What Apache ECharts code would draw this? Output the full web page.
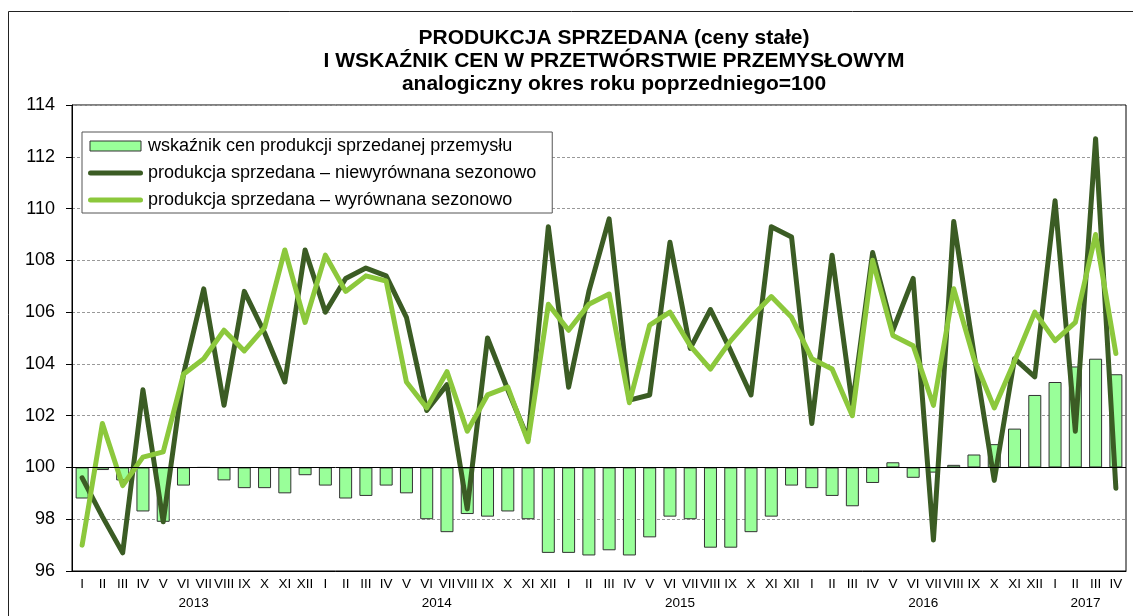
<!DOCTYPE html>
<html>
<head>
<meta charset="utf-8">
<title>Produkcja sprzedana</title>
<script src="https://cdn.jsdelivr.net/npm/echarts@6/dist/echarts.min.js"></script>
<style>
  html, body { margin: 0; padding: 0; background: #fff; }
  #chart { width: 1133px; height: 616px; }
</style>
</head>
<body>
<div id="chart"></div>
<script>
  // miesiące 2013 I - 2017 IV
  const romans = ['I', 'II', 'III', 'IV', 'V', 'VI', 'VII', 'VIII', 'IX', 'X', 'XI', 'XII'];
  const years = ['2013', '2014', '2015', '2016', '2017'];
  const months = [].concat(romans, romans, romans, romans, romans.slice(0, 4));
  const yearOfMonth = months.map(function (m, i) { return years[Math.floor(i / 12)]; });

  // wskaźnik cen produkcji sprzedanej przemysłu
  const priceIndex = [
    98.8, 99.9, 99.5, 98.3, 97.9, 99.3, 100.0, 99.5, 99.2, 99.2, 99.0, 99.7,
    99.3, 98.8, 98.9, 99.3, 99.0, 98.0, 97.5, 98.2, 98.1, 98.3, 98.0, 96.7,
    96.7, 96.6, 96.8, 96.6, 97.3, 98.1, 98.0, 96.9, 96.9, 97.5, 98.1, 99.3,
    99.2, 98.9, 98.5, 99.4, 100.2, 99.6, 99.8, 100.1, 100.5, 100.9, 101.5, 102.8,
    103.3, 103.9, 104.2, 103.6
  ];
  // produkcja sprzedana - niewyrównana sezonowo
  const prodRaw = [
    99.6, 98.1, 96.7, 103.0, 97.9, 103.6, 106.9, 102.4, 106.8, 105.2, 103.3, 108.4,
    106.0, 107.3, 107.7, 107.4, 105.8, 102.2, 103.2, 98.4, 105.0, 103.0, 101.1, 109.3,
    103.1, 106.8, 109.6, 102.6, 102.8, 108.7, 104.6, 106.1, 104.5, 102.8, 109.3, 108.9,
    101.7, 108.2, 102.4, 108.3, 105.3, 107.3, 97.2, 109.5, 104.4, 99.5, 104.2, 103.5,
    110.3, 101.4, 112.7, 99.2
  ];
  // produkcja sprzedana - wyrównana sezonowo
  const prodSa = [
    97.0, 101.7, 99.3, 100.4, 100.6, 103.6, 104.2, 105.3, 104.5, 105.4, 108.4, 105.6,
    108.2, 106.8, 107.4, 107.2, 103.3, 102.3, 103.7, 101.4, 102.8, 103.1, 101.0, 106.3,
    105.3, 106.3, 106.7, 102.5, 105.5, 106.0, 104.7, 103.8, 104.9, 105.8, 106.6, 105.8,
    104.2, 103.8, 102.0, 108.0, 105.1, 104.7, 102.4, 106.9, 104.2, 102.3, 104.1, 106.0,
    104.9, 105.6, 109.0, 104.4
  ];
  const yTicks = [96, 114, 2]; // min, max, krok

  const names = [
    'wskaźnik cen produkcji sprzedanej przemysłu',
    'produkcja sprzedana – niewyrównana sezonowo',
    'produkcja sprzedana – wyrównana sezonowo'
  ];
  const font = 'Liberation Sans, Arial, sans-serif';
  const darkGreen = '#3b5c24';
  const lightGreen = '#8cc83c';
  const barGreen = '#99ff99';

  // ikony legendy: kreska z zaokrąglonymi końcami i prostokąt
  const lineIcon = 'path://M2.5,0 L52.5,0 A2.5,2.5 0 0 1 52.5,5 L2.5,5 A2.5,2.5 0 0 1 2.5,0 Z';
  const barIcon = 'path://M0,0 L51,0 L51,10 L0,10 Z';

  // słupki rysowane od poziomu 100
  const base = priceIndex.map(function () { return 100; });
  const delta = priceIndex.map(function (v) { return +(v - 100).toFixed(2); });
  const yearLabelIdx = [5, 17, 29, 41, 49];

  const chart = echarts.init(document.getElementById('chart'));
  chart.setOption({
    animation: false,
    title: {
      text: 'PRODUKCJA SPRZEDANA (ceny stałe)\nI WSKAŹNIK CEN W PRZETWÓRSTWIE PRZEMYSŁOWYM\nanalogiczny okres roku poprzedniego=100',
      left: 614,
      top: 27,
      padding: 0,
      textAlign: 'center',
      textStyle: { fontFamily: font, fontSize: 21, fontWeight: 'bold', color: '#000', lineHeight: 23 }
    },
    graphic: [{
      type: 'rect',
      shape: { x: 8.5, y: 11.5, width: 1140, height: 640 },
      style: { fill: 'none', stroke: '#222', lineWidth: 1 },
      silent: true
    }],
    legend: {
      data: [
        { name: names[0], icon: barIcon, itemStyle: { color: barGreen, borderColor: '#333', borderWidth: 1 } },
        { name: names[1], icon: lineIcon, itemStyle: { color: darkGreen, borderWidth: 0 } },
        { name: names[2], icon: lineIcon, itemStyle: { color: lightGreen, borderWidth: 0 } }
      ],
      orient: 'vertical',
      left: 82,
      top: 132,
      padding: [5, 16, 4, 6],
      itemGap: 9,
      itemWidth: 55,
      itemHeight: 10,
      backgroundColor: '#fff',
      borderColor: '#555',
      borderWidth: 1,
      textStyle: { fontFamily: font, fontSize: 18, color: '#000' }
    },
    grid: {
      left: 72, top: 105, right: 7, bottom: 45,
      show: true, borderColor: '#000', borderWidth: 1
    },
    xAxis: [{
      type: 'category',
      data: months,
      axisLine: { lineStyle: { color: '#000', width: 1 } },
      axisTick: { interval: 0, length: 21, lineStyle: { color: '#000' } },
      axisLabel: { interval: 0, margin: 6, fontFamily: font, fontSize: 13.5, color: '#000' }
    }, {
      type: 'category',
      data: yearOfMonth,
      position: 'bottom',
      axisLine: { show: false },
      axisTick: {
        length: 41,
        interval: function (i) { return i % 12 === 0; },
        lineStyle: { color: '#000' }
      },
      axisLabel: {
        margin: 25,
        interval: function (i) { return yearLabelIdx.indexOf(i) >= 0; },
        padding: [0, 0, 0, 20.3],
        fontFamily: font, fontSize: 13.5, color: '#000'
      }
    }],
    yAxis: {
      type: 'value',
      min: yTicks[0], max: yTicks[1], interval: yTicks[2],
      axisLine: { show: true, lineStyle: { color: '#000' } },
      axisTick: { show: true, length: 6, lineStyle: { color: '#000' } },
      axisLabel: { margin: 17, fontFamily: font, fontSize: 18, color: '#000' },
      splitLine: { show: true, lineStyle: { color: '#999', type: [3, 2], width: 1 } }
    },
    series: [{
      name: '_base',
      type: 'bar',
      stack: 'ceny',
      stackStrategy: 'all',
      data: base,
      barWidth: 13,
      silent: true,
      itemStyle: { color: 'rgba(0,0,0,0)' },
      markLine: {
        silent: true,
        symbol: 'none',
        label: { show: false },
        lineStyle: { color: '#000', type: 'solid', width: 1 },
        data: [{ yAxis: 100 }]
      }
    }, {
      name: names[0],
      type: 'bar',
      stack: 'ceny',
      stackStrategy: 'all',
      data: delta,
      barWidth: 13,
      itemStyle: { color: barGreen, borderColor: '#333', borderWidth: 1 }
    }, {
      name: names[1],
      type: 'line',
      data: prodRaw,
      symbol: 'none',
      lineStyle: { color: darkGreen, width: 5, join: 'round', cap: 'round' },
      itemStyle: { color: darkGreen }
    }, {
      name: names[2],
      type: 'line',
      data: prodSa,
      symbol: 'none',
      lineStyle: { color: lightGreen, width: 5, join: 'round', cap: 'round' },
      itemStyle: { color: lightGreen }
    }]
  });
</script>
</body>
</html>
